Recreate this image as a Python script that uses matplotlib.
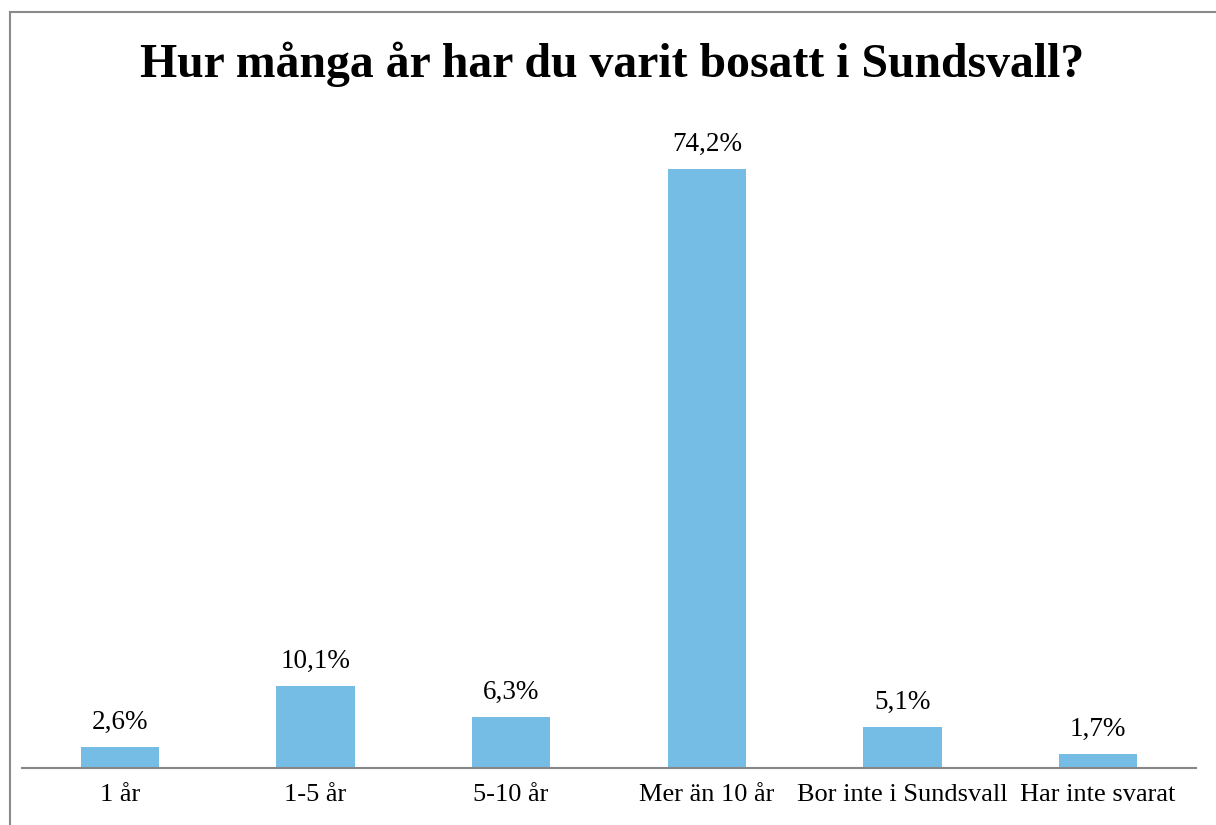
import matplotlib
matplotlib.use("Agg")
import matplotlib.pyplot as plt
from matplotlib.lines import Line2D

categories = ["1 år", "1-5 år", "5-10 år", "Mer än 10 år", "Bor inte i Sundsvall", "Har inte svarat"]
values = [2.6, 10.1, 6.3, 74.2, 5.1, 1.7]
labels = ["2,6%", "10,1%", "6,3%", "74,2%", "5,1%", "1,7%"]

plt.rcParams['font.family'] = ['Liberation Serif', 'DejaVu Serif']

fig = plt.figure(figsize=(12.16, 8.25), dpi=100)
ax = fig.add_axes([22 / 1216, 57 / 825, 1174 / 1216, 646 / 825])

x = list(range(len(categories)))
bars = ax.bar(x, values, width=0.4, color='#75BDE4')

for b, lab in zip(bars, labels):
    ax.annotate(lab, (b.get_x() + b.get_width() / 2, b.get_height()),
                xytext=(0, 13), textcoords='offset points',
                ha='center', va='baseline', fontsize=19.5)

ax.set_xlim(-0.5, len(categories) - 0.5)
ax.set_ylim(0, 80)
ax.set_xticks(x)
ax.set_xticklabels(categories, fontsize=19)
ax.tick_params(axis='x', length=0, pad=11.5)
ax.set_yticks([])
for s in ['top', 'right', 'left']:
    ax.spines[s].set_visible(False)
ax.spines['bottom'].set_color('#868686')
ax.spines['bottom'].set_linewidth(1.5)

fig.text(612 / 1216, 1 - 77 / 825, "Hur många år har du varit bosatt i Sundsvall?",
         ha='center', va='baseline', fontsize=34.4, fontweight='bold')

# outer frame (only top and left edges fall inside the image)
fig.add_artist(Line2D([10 / 1216, 1], [1 - 12 / 825, 1 - 12 / 825], color='#8a8a8a', lw=1.5))
fig.add_artist(Line2D([10 / 1216, 10 / 1216], [0, 1 - 12 / 825], color='#8a8a8a', lw=1.5))

fig.savefig("out.png", dpi=100)
